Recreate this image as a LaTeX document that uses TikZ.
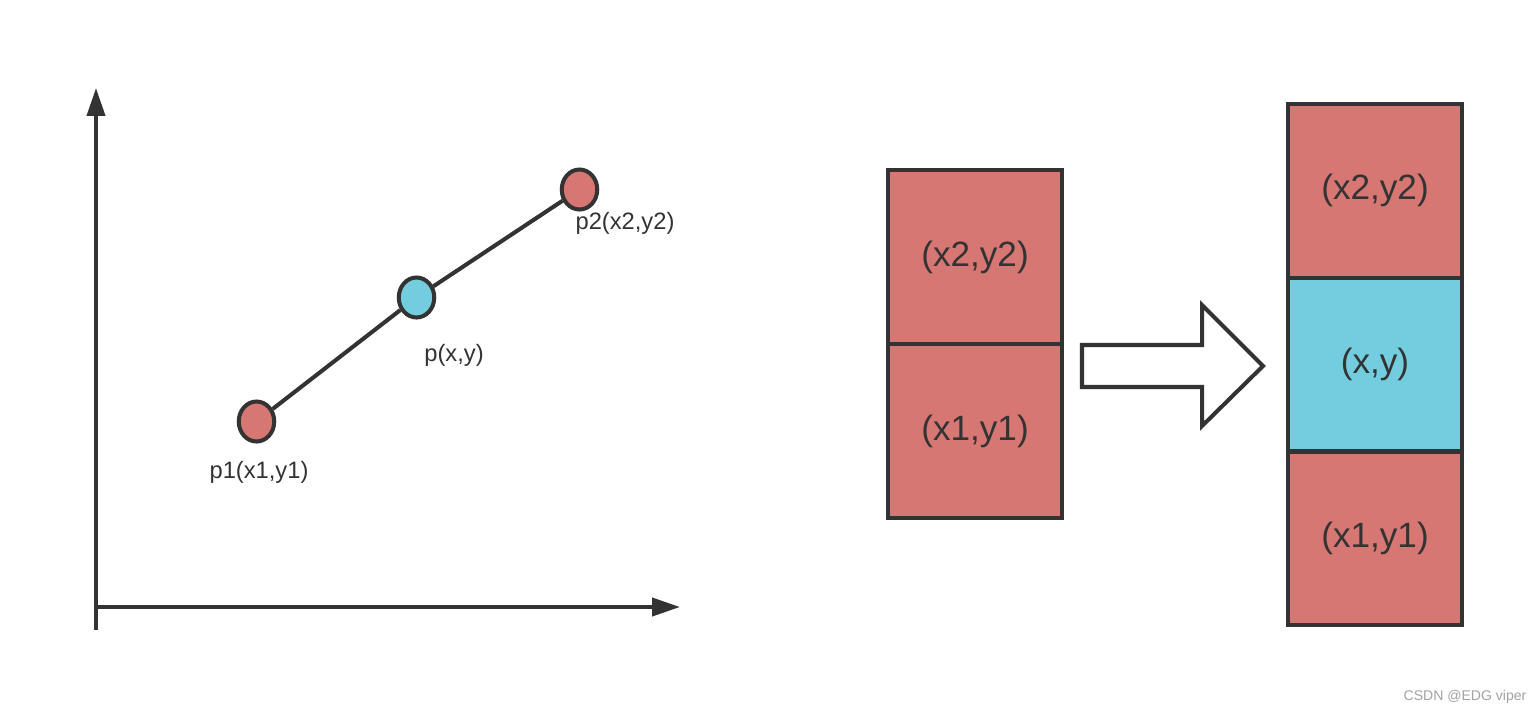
\documentclass[tikz,border=0pt]{standalone}
\usepackage{fontspec}
\setmainfont{Liberation Sans}
\usetikzlibrary{positioning, arrows.meta, shapes.geometric}
\definecolor{ptRed}{HTML}{D67773}
\definecolor{ptBlue}{HTML}{74CDDF}
\definecolor{inkDark}{HTML}{333333}
\definecolor{inkMark}{HTML}{A3A3A3}

\begin{document}
\begin{tikzpicture}[
  x=0.02cm, y=-0.02cm,
  axis/.style={draw=inkDark, line width=2.3pt,
    -{Triangle[length=0.56cm, width=0.36cm]}},
  seg/.style={draw=inkDark, line width=2.3pt},
  dot/.style={ellipse, draw=inkDark, line width=2.3pt,
    minimum width=0.71cm, minimum height=0.8cm, inner sep=0pt},
  dotred/.style={dot, fill=ptRed},
  dotblue/.style={dot, fill=ptBlue},
  ptlabel/.style={font=\fontsize{13.5}{16}\selectfont, text=inkDark},
  cell/.style={rectangle, draw=inkDark, line width=2.3pt, outer sep=0pt,
    minimum width=3.48cm, minimum height=3.48cm,
    font=\fontsize{20}{24}\selectfont, text=inkDark},
  cellred/.style={cell, fill=ptRed},
  cellblue/.style={cell, fill=ptBlue},
  bigarrow/.style={draw=inkDark, line width=2.3pt, fill=white, line join=miter},
  wmark/.style={font=\fontsize{8}{10}\selectfont, text=inkMark}
]
  %% --- pagina (unita': pixel del riferimento) ---
  \fill[white] (0,0) rectangle (1540,714);
  \useasboundingbox (0,0) rectangle (1540,714);

  %% --- assi ---
  \coordinate (ybot) at (96,630);
  \coordinate (ytop) at (96,88);
  \coordinate (xlft) at (96,607);
  \coordinate (xrgt) at (680,607);
  \draw[axis] (ybot) -- (ytop);
  \draw[axis] (xlft) -- (xrgt);

  %% --- punti sulla retta ---
  \node[dotred]  (p1) at (256.5,421.5) {};
  \node[dotblue] (p)  at (416.5,297.5) {};
  \node[dotred]  (p2) at (579.5,189.5) {};
  \draw[seg] (p1) -- (p);
  \draw[seg] (p) -- (p2);

  \node[ptlabel] (lp1) at (259,472) {p1(x1,y1)};
  \node[ptlabel] (lp)  at (454,355) {p(x,y)};
  \node[ptlabel] (lp2) at (625,223) {p2(x2,y2)};

  %% --- pila di partenza ---
  \node[cellred] (lo) at (975,431) {(x1,y1)};
  \node[cellred, above=0pt of lo] (lhi) {(x2,y2)};

  %% --- freccia larga ---
  \draw[bigarrow] (1082,345) -- (1202,345) -- (1202,305) -- (1263,366)
    -- (1202,426) -- (1202,387) -- (1082,387) -- cycle;

  %% --- pila di arrivo ---
  \node[cellblue] (rmid) at (1375,364.5) {(x,y)};
  \node[cellred, above=0pt of rmid] (rhi) {(x2,y2)};
  \node[cellred, below=0pt of rmid] (rlo) {(x1,y1)};

  %% --- filigrana ---
  \node[wmark] (wm) at (1465,697) {CSDN @EDG viper};
\end{tikzpicture}
\end{document}
